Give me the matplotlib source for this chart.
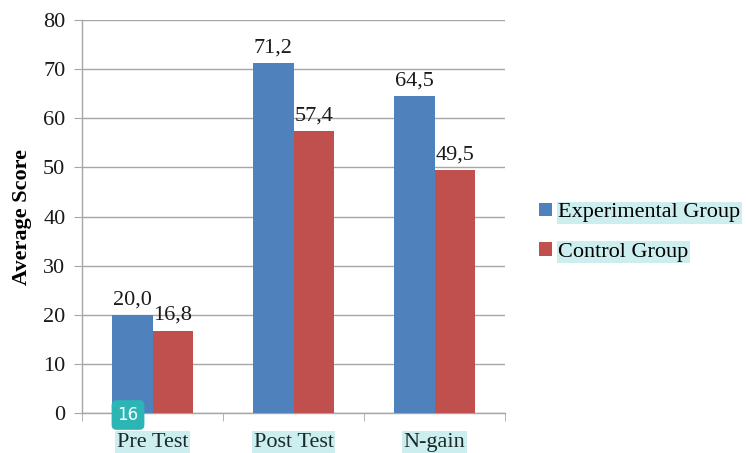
import matplotlib.pyplot as plt
import numpy as np

categories = ['Pre Test', 'Post Test', 'N-gain']
experimental = [20.0, 71.2, 64.5]
control = [16.8, 57.4, 49.5]
series_names = ['Experimental Group', 'Control Group']

plt.rcParams['font.family'] = ['Liberation Serif', 'DejaVu Serif']

fig = plt.figure(figsize=(7.46, 4.53), dpi=100)
ax = fig.add_axes([0.110, 0.088, 0.567, 0.868])

x = np.arange(len(categories))
w = 0.29
grey = '#A6A6A6'
hl = '#CCEEEE'
fs = 16

b1 = ax.bar(x - w / 2, experimental, w, color='#4F81BD', label=series_names[0], zorder=3)
b2 = ax.bar(x + w / 2, control, w, color='#C0504D', label=series_names[1], zorder=3)

for bars, vals in ((b1, experimental), (b2, control)):
    for r, v in zip(bars, vals):
        ax.annotate(f'{v:.1f}'.replace('.', ','), (r.get_x() + r.get_width() / 2, r.get_height()),
                    xytext=(0, 4), textcoords='offset points', ha='center', va='bottom',
                    fontsize=fs, color='#1a1a1a')

ax.set_ylim(0, 80)
ax.set_xlim(-0.5, 2.5)
ax.set_yticks(range(0, 81, 10))
ax.yaxis.grid(True, color=grey, linewidth=1, zorder=0)
ax.set_axisbelow(True)
for s in ('top', 'right'):
    ax.spines[s].set_visible(False)
for s in ('left', 'bottom'):
    ax.spines[s].set_color(grey)
    ax.spines[s].set_linewidth(1)

ax.set_xticks(x)
ax.set_xticklabels(categories)
ax.set_xticks([-0.5, 0.5, 1.5, 2.5], minor=True)
ax.tick_params(axis='x', which='major', length=0, pad=14, labelsize=fs, labelcolor='#1a2a2a')
ax.tick_params(axis='x', which='minor', length=6, color=grey)
ax.tick_params(axis='y', length=6, color=grey, labelsize=fs, labelcolor='#1a1a1a', pad=6)
for t in ax.get_xticklabels():
    t.set_bbox(dict(facecolor=hl, edgecolor='none', pad=1))

ax.set_ylabel('Average Score', fontsize=fs, fontweight='bold', labelpad=8)

leg = ax.legend(loc='center left', bbox_to_anchor=(1.06, 0.46), frameon=False, fontsize=fs,
                handlelength=0.55, handleheight=0.55, handletextpad=0.3, labelspacing=0.9,
                borderaxespad=0)
for t in leg.get_texts():
    t.set_bbox(dict(facecolor=hl, edgecolor='none', pad=1))

fig.text(128 / 746, 1 - 415 / 453, '16', ha='center', va='center', color='white',
         fontsize=12, family='DejaVu Sans',
         bbox=dict(boxstyle='round,pad=0.35,rounding_size=0.3', facecolor='#2BB5B5', edgecolor='none'))

fig.savefig('out.png', dpi=100)
